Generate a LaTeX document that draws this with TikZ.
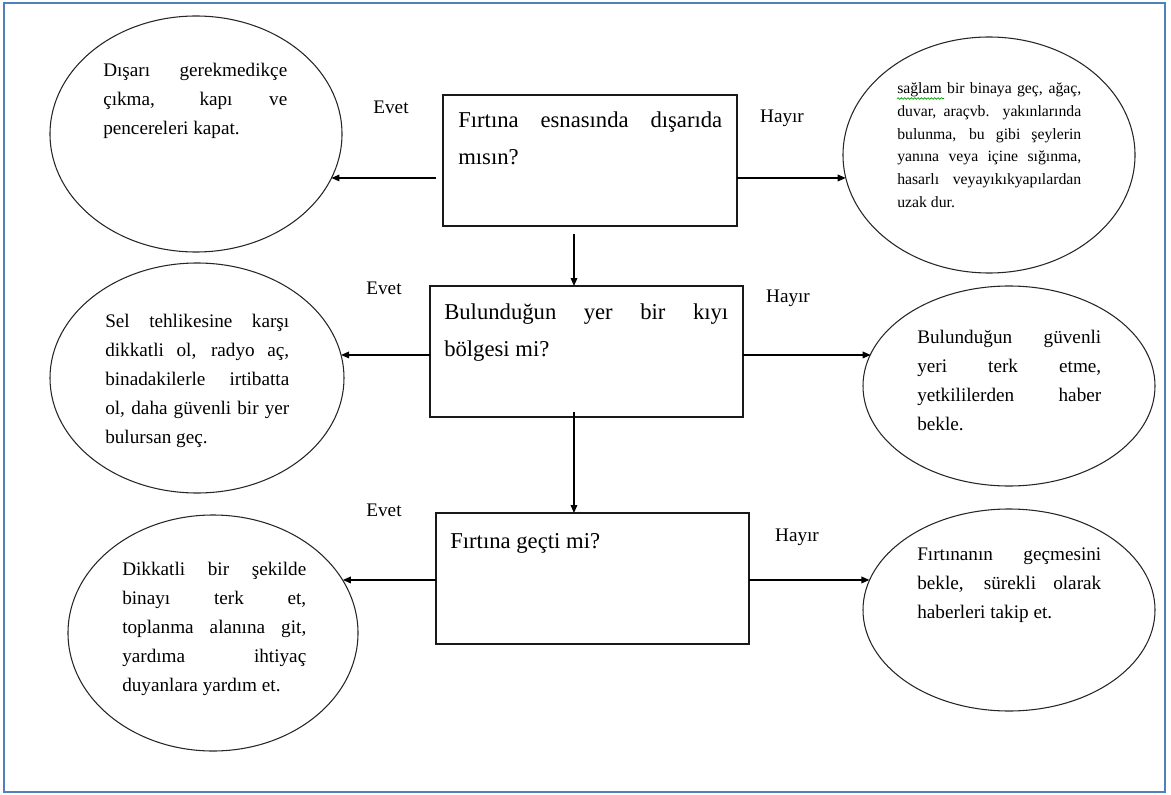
\documentclass[tikz,border=0pt]{standalone}
\usepackage{fontspec}
\setmainfont{Liberation Serif}
\usetikzlibrary{arrows.meta,shapes.geometric,decorations.pathmorphing}
\definecolor{cerceve}{RGB}{79,129,189}
\newcommand{\ovalfont}{\fontsize{14.4}{21.75}\selectfont\tolerance=10000\hyphenpenalty=10000\relax}
\newcommand{\kucukfont}{\fontsize{11.8}{17}\selectfont\tolerance=10000\hyphenpenalty=10000\relax}
\newcommand{\kutufont}{\fontsize{17}{27.75}\selectfont\tolerance=10000\hyphenpenalty=10000\relax}

\begin{document}
\begin{tikzpicture}[x=0.75pt,y=-0.75pt]
\useasboundingbox (0,0) rectangle (1171,795);
\draw[cerceve, line width=1.5pt] (4,3) rectangle (1165,792);

\tikzstyle{oval}=[ellipse, draw=black!85, line width=0.8pt, inner sep=0pt, outer sep=0pt]
\tikzstyle{kutu}=[rectangle, draw=black!90, line width=1.1pt, minimum height=98.25pt, inner sep=0pt, outer sep=0pt]
\tikzstyle{yazi}=[anchor=base west, inner sep=0pt, align=justify, text width=138pt, font=\ovalfont]
\tikzstyle{cevap}=[anchor=base, inner sep=0pt, font=\fontsize{14.4}{17}\selectfont]
\tikzstyle{ok}=[-{Triangle[length=6pt,width=5pt]}, line width=0.9pt]

\node[kutu, minimum width=220.5pt] (b1) at (590,160.5) {};
\node[kutu, minimum width=234.75pt] (b2) at (586.5,351.5) {};
\node[kutu, minimum width=234.75pt] (b3) at (592.5,578.5) {};

\node[anchor=base west, inner sep=0pt, align=justify, text width=198pt, font=\kutufont] (b1t) at (458,128)
  {Fırtına esnasında dışarıda\linebreak mısın?};
\node[anchor=base west, inner sep=0pt, align=justify, text width=213pt, font=\kutufont] (b2t) at (444,319)
  {Bulunduğun yer bir kıyı\linebreak bölgesi mi?};
\node[anchor=base west, inner sep=0pt, font=\kutufont] (b3t) at (450,548) {Fırtına geçti mi?};

\node[oval, minimum width=219pt, minimum height=177pt] (e1) at (196,134) {};
\node[oval, minimum width=219pt, minimum height=177pt] (e2) at (989,155) {};
\node[oval, minimum width=220.5pt, minimum height=172.5pt] (e3) at (197,378) {};
\node[oval, minimum width=219pt, minimum height=150pt] (e4) at (1009,386) {};
\node[oval, minimum width=217.5pt, minimum height=177pt] (e5) at (213,633) {};
\node[oval, minimum width=219pt, minimum height=151.5pt] (e6) at (1009,610) {};

\node[yazi] (e1t) at (103,77) {Dışarı gerekmedikçe\linebreak çıkma, kapı ve\linebreak pencereleri kapat.};
\node[yazi, font=\kucukfont] (e2t) at (897,94) {sağlam bir binaya geç, ağaç,\linebreak duvar, araçvb. yakınlarında\linebreak bulunma, bu gibi şeylerin\linebreak yanına veya içine sığınma,\linebreak hasarlı veyayıkıkyapılardan\linebreak uzak dur.};
\node[yazi] (e3t) at (105,327) {Sel tehlikesine karşı\linebreak dikkatli ol, radyo aç,\linebreak binadakilerle irtibatta\linebreak ol, daha güvenli bir yer\linebreak bulursan geç.};
\node[yazi] (e4t) at (917,343) {Bulunduğun güvenli\linebreak yeri terk etme,\linebreak yetkililerden haber\linebreak bekle.};
\node[yazi] (e5t) at (122,575) {Dikkatli bir şekilde\linebreak binayı terk et,\linebreak toplanma alanına git,\linebreak yardıma ihtiyaç\linebreak duyanlara yardım et.};
\node[yazi] (e6t) at (917,560) {Fırtınanın geçmesini\linebreak bekle, sürekli olarak\linebreak haberleri takip et.};
\draw[green!60!black, line width=0.5pt, decorate, decoration={snake, amplitude=0.6pt, segment length=2.5pt}] (897,98.5) -- (944,98.5);

\node[cevap] (ev1) at (391,114) {Evet};
\node[cevap] (ha1) at (782,123) {Hayır};
\node[cevap] (ev2) at (384,294) {Evet};
\node[cevap] (ha2) at (788,302) {Hayır};
\node[cevap] (ev3) at (384,516) {Evet};
\node[cevap] (ha3) at (797,541) {Hayır};

\coordinate (s1) at ([xshift=-5.25pt,yshift=-13.1pt]b1.west);
\coordinate (s2) at ([yshift=-13.1pt]b1.east);
\coordinate (s3) at ([xshift=-12pt,yshift=-6pt]b1.south);
\coordinate (s4) at ([yshift=-2.6pt]b2.west);
\coordinate (s5) at ([yshift=-2.6pt]b2.east);
\coordinate (s6) at ([xshift=-9.4pt,yshift=3.75pt]b2.south);
\coordinate (s7) at ([yshift=-1.1pt]b3.west);
\coordinate (s8) at ([yshift=-1.1pt]b3.east);

\draw[ok] (s1) -- (s1 -| e1.-18);
\draw[ok] (s2) -- (s2 -| e2.189);
\draw[ok] (s3) -- (s3 |- b2.north);
\draw[ok] (s4) -- (s4 -| e3.9);
\draw[ok] (s5) -- (s5 -| e4.167);
\draw[ok] (s6) -- (s6 |- b3.north);
\draw[ok] (s7) -- (s7 -| e5.22);
\draw[ok] (s8) -- (s8 -| e6.168);
\end{tikzpicture}
\end{document}
